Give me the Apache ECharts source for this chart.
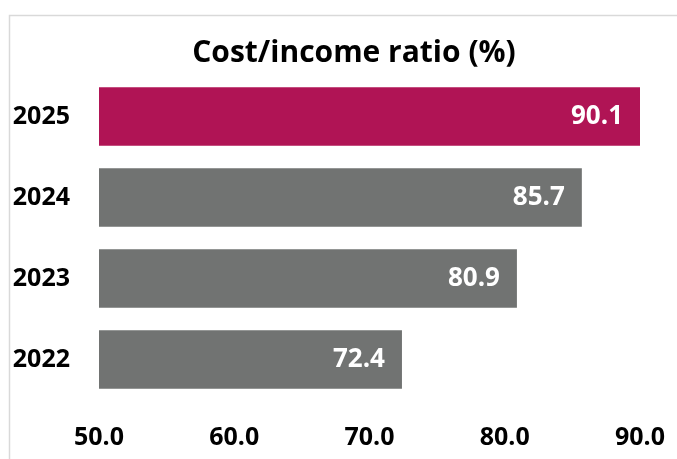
<!DOCTYPE html>
<html>
<head>
<meta charset="utf-8">
<script src="https://cdn.jsdelivr.net/npm/echarts@6/dist/echarts.min.js"></script>
<style>html,body{margin:0;padding:0;background:#fff}#c{width:677px;height:459px}</style>
</head>
<body>
<div id="c"></div>
<script>
const categories = ['2022', '2023', '2024', '2025'];
const values = [72.4, 80.9, 85.7, 90.1];
const barColors = ['#717372', '#717372', '#717372', '#B01455'];
const xTicks = [50, 60, 70, 80, 90];
const titleText = 'Cost/income ratio (%)';

const chart = echarts.init(document.getElementById('c'), null, {renderer: 'canvas'});
const FONT = '"Open Sans", sans-serif';
chart.setOption({
  animation: false,
  graphic: [{
    type: 'rect', left: 7, top: 13,
    shape: {width: 720, height: 520},
    style: {fill: 'none', stroke: '#d9d9d9', lineWidth: 1.5}
  }],
  title: {
    text: titleText, left: 349, top: 33, textAlign: 'center',
    textStyle: {fontFamily: FONT, fontWeight: 700, fontSize: 30, color: '#000'}
  },
  grid: {left: 99, right: 37, top: 76, bottom: 59, containLabel: false},
  xAxis: {
    type: 'value', min: xTicks[0], max: xTicks[xTicks.length - 1], interval: 10,
    axisLine: {show: false}, axisTick: {show: false}, splitLine: {show: false},
    axisLabel: {
      margin: 25, color: '#000', fontFamily: FONT, fontWeight: 700, fontSize: 25,
      formatter: v => v.toFixed(1)
    }
  },
  yAxis: {
    type: 'category', data: categories,
    axisLine: {show: false}, axisTick: {show: false},
    axisLabel: {margin: 29, color: '#000', fontFamily: FONT, fontWeight: 700, fontSize: 25}
  },
  series: [{
    type: 'bar',
    data: values.map((v, i) => ({value: v, itemStyle: {color: barColors[i]}})),
    barCategoryGap: '28%',
    label: {
      show: true, position: 'insideRight', distance: 17,
      color: '#fff', fontFamily: FONT, fontWeight: 700, fontSize: 26,
      formatter: p => p.value.toFixed(1)
    }
  }]
});
</script>
</body>
</html>
